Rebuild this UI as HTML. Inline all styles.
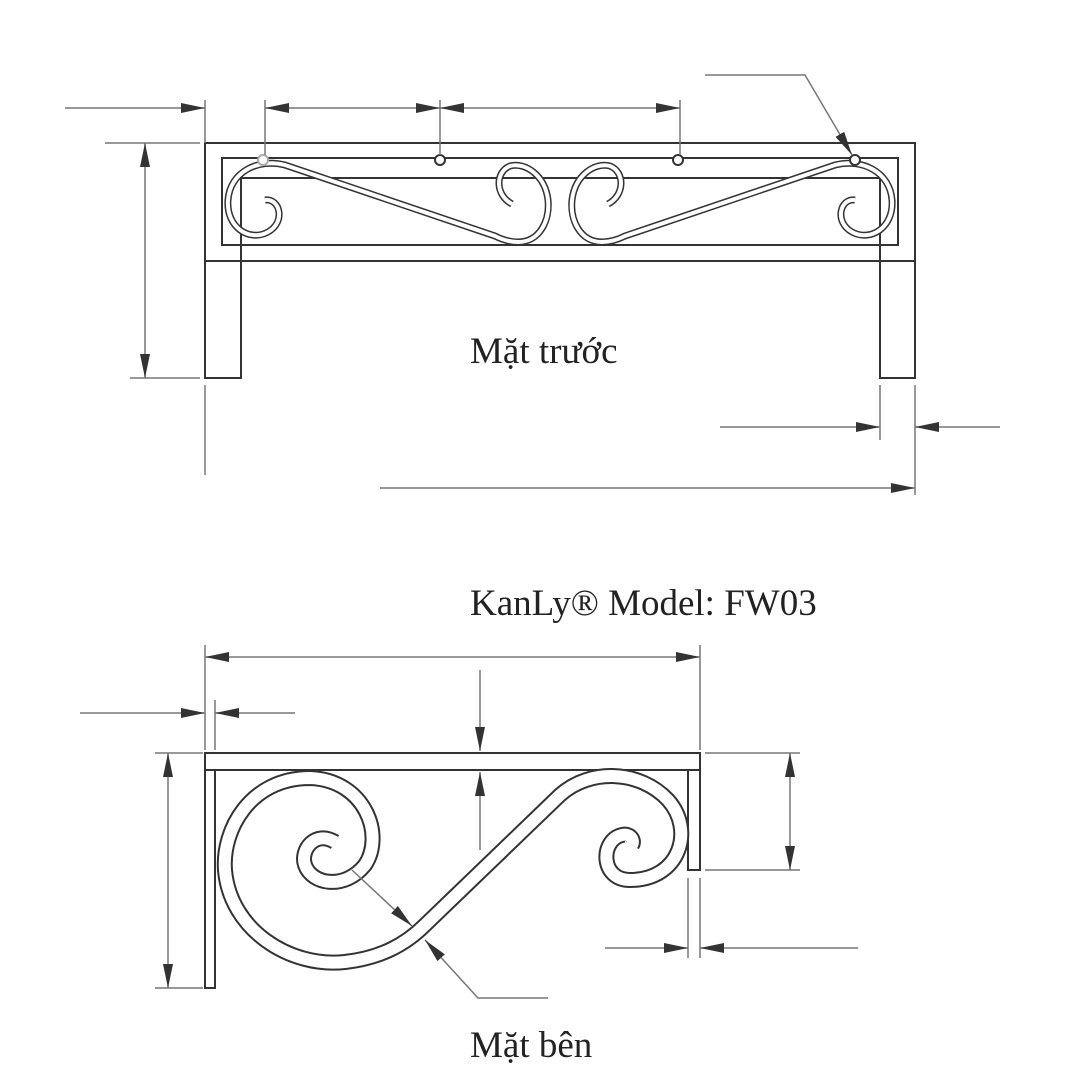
<!DOCTYPE html>
<html><head><meta charset="utf-8"><style>
html,body{margin:0;padding:0;background:#fff;}
svg{display:block;}
text{font-family:"Liberation Serif",serif;fill:#222;}
</style></head><body>
<svg width="1090" height="1090" viewBox="0 0 1090 1090" xmlns="http://www.w3.org/2000/svg">
<defs>
<marker id="a" viewBox="0 0 24 10" refX="24" refY="5" markerWidth="24" markerHeight="10" markerUnits="userSpaceOnUse" orient="auto-start-reverse">
<path d="M0 0 L24 5 L0 10 Z" fill="#333"/></marker>
</defs>
<g fill="none" stroke="#333" stroke-width="2">
<rect x="205" y="143" width="710" height="118"/>
<rect x="222" y="158" width="676" height="87"/>
<line x1="241" y1="178" x2="880" y2="178"/>
<path d="M205 261 V378 H241 V178"/>
<path d="M915 261 V378 H880 V178"/>
</g>
<g fill="none">
<path d="M265 200 C280 198 286 222 268 232 C250 242 226 228 228 200 C230 172 258 158 285 165 L495 236 C505 241 512 242 518 242 C540 242 550 220 548 200 C545 175 525 162 510 166 C495 172 495 195 512 204" stroke="#333" stroke-width="7"/>
<path d="M265 200 C280 198 286 222 268 232 C250 242 226 228 228 200 C230 172 258 158 285 165 L495 236 C505 241 512 242 518 242 C540 242 550 220 548 200 C545 175 525 162 510 166 C495 172 495 195 512 204" stroke="#fff" stroke-width="4"/>
<g transform="translate(1120,0) scale(-1,1)">
<path d="M265 200 C280 198 286 222 268 232 C250 242 226 228 228 200 C230 172 258 158 285 165 L495 236 C505 241 512 242 518 242 C540 242 550 220 548 200 C545 175 525 162 510 166 C495 172 495 195 512 204" stroke="#333" stroke-width="7"/>
<path d="M265 200 C280 198 286 222 268 232 C250 242 226 228 228 200 C230 172 258 158 285 165 L495 236 C505 241 512 242 518 242 C540 242 550 220 548 200 C545 175 525 162 510 166 C495 172 495 195 512 204" stroke="#fff" stroke-width="4"/>
</g>
</g>
<g fill="#fff" stroke="#333" stroke-width="2">
<circle cx="263" cy="160" r="5" stroke="#aaa"/>
<circle cx="440" cy="160" r="5"/>
<circle cx="678" cy="160" r="5"/>
<circle cx="855" cy="160" r="5"/>
</g>
<g fill="none" stroke="#777" stroke-width="1.5">
<line x1="205" y1="100" x2="205" y2="143"/>
<line x1="265" y1="100" x2="265" y2="155"/>
<line x1="440" y1="100" x2="440" y2="155"/>
<line x1="680" y1="100" x2="680" y2="155"/>
<line x1="65" y1="108" x2="205" y2="108" marker-end="url(#a)"/>
<line x1="265" y1="108" x2="440" y2="108" marker-start="url(#a)" marker-end="url(#a)"/>
<line x1="440" y1="108" x2="680" y2="108" marker-start="url(#a)" marker-end="url(#a)"/>
<path d="M705 75 H805 L852 155" marker-end="url(#a)"/>
<line x1="105" y1="143" x2="200" y2="143"/>
<line x1="130" y1="378" x2="200" y2="378"/>
<line x1="145" y1="143" x2="145" y2="378" marker-start="url(#a)" marker-end="url(#a)"/>
<line x1="880" y1="385" x2="880" y2="440"/>
<line x1="915" y1="385" x2="915" y2="495"/>
<line x1="205" y1="385" x2="205" y2="475"/>
<line x1="720" y1="427" x2="880" y2="427" marker-end="url(#a)"/>
<line x1="1000" y1="427" x2="915" y2="427" marker-end="url(#a)"/>
<line x1="380" y1="488" x2="915" y2="488" marker-end="url(#a)"/>
</g>
<text x="470" y="363" font-size="37">Mặt trước</text>
<text x="470" y="615" font-size="37">KanLy® Model: FW03</text>
<g fill="none" stroke="#333" stroke-width="2">
<rect x="205" y="753" width="495" height="17"/>
<path d="M205 753 V988 H215 V770"/>
<path d="M700 753 V870 H688 V770"/>
</g>
<g fill="none">
<path d="M335 842 C315 830 300 850 305 865 C312 885 345 890 365 865 C385 835 365 780 310 778 C250 778 222 830 225 870 C230 930 290 968 345 962 C380 958 405 945 425 925 L560 795 C590 768 640 770 668 800 C695 830 680 880 630 880 C600 880 600 840 622 835 C630 833 635 840 632 845" stroke="#333" stroke-width="16"/>
<path d="M335 842 C315 830 300 850 305 865 C312 885 345 890 365 865 C385 835 365 780 310 778 C250 778 222 830 225 870 C230 930 290 968 345 962 C380 958 405 945 425 925 L560 795 C590 768 640 770 668 800 C695 830 680 880 630 880 C600 880 600 840 622 835 C630 833 635 840 632 845" stroke="#fff" stroke-width="12"/>
</g>
<g fill="none" stroke="#777" stroke-width="1.5">
<line x1="205" y1="645" x2="205" y2="750"/>
<line x1="700" y1="645" x2="700" y2="750"/>
<line x1="215" y1="700" x2="215" y2="750"/>
<line x1="205" y1="657" x2="700" y2="657" marker-start="url(#a)" marker-end="url(#a)"/>
<line x1="80" y1="713" x2="205" y2="713" marker-end="url(#a)"/>
<line x1="295" y1="713" x2="215" y2="713" marker-end="url(#a)"/>
<line x1="480" y1="670" x2="480" y2="751" marker-end="url(#a)"/>
<line x1="480" y1="850" x2="480" y2="772" marker-end="url(#a)"/>
<line x1="155" y1="753" x2="203" y2="753"/>
<line x1="155" y1="988" x2="203" y2="988"/>
<line x1="168" y1="753" x2="168" y2="988" marker-start="url(#a)" marker-end="url(#a)"/>
<line x1="705" y1="753" x2="800" y2="753"/>
<line x1="705" y1="870" x2="800" y2="870"/>
<line x1="790" y1="753" x2="790" y2="870" marker-start="url(#a)" marker-end="url(#a)"/>
<line x1="688" y1="878" x2="688" y2="958"/>
<line x1="700" y1="878" x2="700" y2="958"/>
<line x1="605" y1="948" x2="688" y2="948" marker-end="url(#a)"/>
<line x1="858" y1="948" x2="700" y2="948" marker-end="url(#a)"/>
<line x1="352" y1="870" x2="412" y2="926" marker-end="url(#a)"/>
<path d="M548 998 H478 L425 940" marker-end="url(#a)"/>
</g>
<text x="470" y="1057" font-size="37">Mặt bên</text>
</svg>
</body></html>
